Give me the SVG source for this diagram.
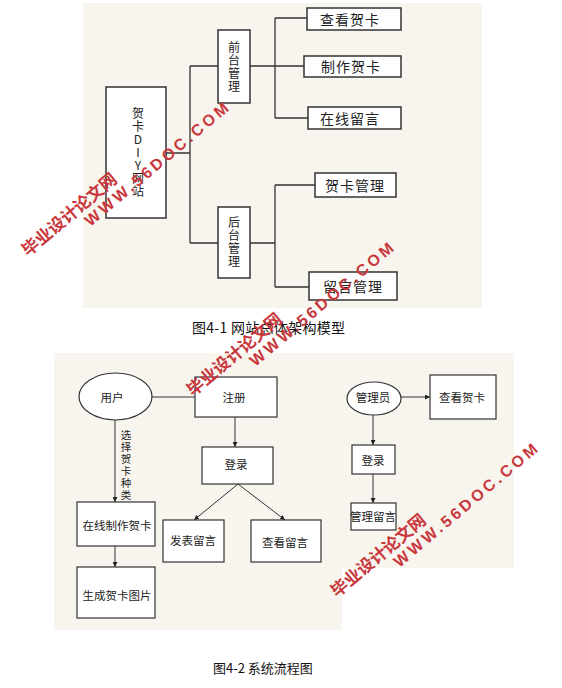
<svg xmlns="http://www.w3.org/2000/svg" width="562" height="688" viewBox="0 0 562 688">
<style>
.bg{fill:#f8f5ef;stroke:none}
.box{fill:#ffffff;stroke:#333333;stroke-width:1.5}
.box2{fill:#ffffff;stroke:#333333;stroke-width:1.2}
.ln{fill:none;stroke:#333333;stroke-width:1.3}
.ln2{fill:none;stroke:#333333;stroke-width:1}
.t{font-family:"Noto Sans CJK SC","Noto Sans",sans-serif;font-size:14px;fill:#222222;text-anchor:middle;dominant-baseline:central}
.tv{font-family:"Noto Sans CJK SC","Noto Sans",sans-serif;font-size:12px;letter-spacing:1px;fill:#222222;text-anchor:middle;dominant-baseline:central;writing-mode:vertical-rl;text-orientation:upright}
.t2{font-family:"Noto Sans CJK SC","Noto Sans",sans-serif;font-size:11.5px;fill:#222222;text-anchor:middle;dominant-baseline:central}
.tv2{font-family:"Noto Sans CJK SC","Noto Sans",sans-serif;font-size:10.5px;letter-spacing:1.5px;fill:#222222;text-anchor:middle;dominant-baseline:central;writing-mode:vertical-rl;text-orientation:upright}
.cap{font-family:"Noto Sans CJK SC","Noto Sans",sans-serif;fill:#111111}
.wm1{font-family:"Noto Sans CJK SC",sans-serif;font-size:17px;font-weight:bold;fill:#c9383c}
.wm2{font-family:"Liberation Sans",Arial,sans-serif;font-size:16px;font-weight:bold;fill:#c9383c}
</style>
<defs>
<marker id="ah" viewBox="0 0 10 10" refX="10" refY="5" markerWidth="5" markerHeight="5" orient="auto" markerUnits="userSpaceOnUse">
<path d="M0,0 L10,5 L0,10 z" fill="#222222"/>
</marker>
</defs>
<rect width="562" height="688" fill="#ffffff"/>
<rect class="bg" x="83" y="3" width="399" height="305"/>
<path class="bg" d="M54,353 H514 V568 H342 V630 H54 Z"/>

<g id="connectors">
<path class="ln" d="M166,153 H190 M190,66 V243 M190,66 H218 M190,243 H218"/>
<path class="ln" d="M250,66 H275 M275,18 V118 M275,18 H307 M275,66 H304 M275,118 H308"/>
<path class="ln" d="M250,243 H275 M275,185 V287 M275,185 H315 M275,287 H309"/>
<path class="ln2" d="M152,397 H195"/>
<path class="ln2" d="M235,417 V447" marker-end="url(#ah)"/>
<path class="ln2" d="M238,484 L194,520" marker-end="url(#ah)"/>
<path class="ln2" d="M238,484 L285,520" marker-end="url(#ah)"/>
<path class="ln2" d="M115,420 V502" marker-end="url(#ah)"/>
<path class="ln2" d="M115,546 V567" marker-end="url(#ah)"/>
<path class="ln2" d="M401,397 H430" marker-end="url(#ah)"/>
<path class="ln2" d="M373,415 V445" marker-end="url(#ah)"/>
<path class="ln2" d="M373,474 V503" marker-end="url(#ah)"/>
</g>

<g id="n-site">
<rect class="box" x="106" y="87" width="60" height="131"/>
<text class="tv" x="138" y="153">贺卡DIY网站</text>
</g>
<g id="n-front">
<rect class="box" x="218" y="30" width="32" height="73"/>
<text class="tv" x="234" y="67">前台管理</text>
</g>
<g id="n-back">
<rect class="box" x="218" y="207" width="32" height="71"/>
<text class="tv" x="234" y="242">后台管理</text>
</g>
<g id="n-view">
<rect class="box" x="307" y="8" width="94" height="22"/>
<text class="t" x="350" y="19" letter-spacing="1">查看贺卡</text>
</g>
<g id="n-make">
<rect class="box" x="304" y="56" width="97" height="21"/>
<text class="t" x="351" y="66" letter-spacing="1">制作贺卡</text>
</g>
<g id="n-msg">
<rect class="box" x="308" y="107" width="93" height="22"/>
<text class="t" x="350" y="118" letter-spacing="1">在线留言</text>
</g>
<g id="n-cardmgr">
<rect class="box" x="315" y="173" width="81" height="24"/>
<text class="t" x="355" y="185" letter-spacing="1">贺卡管理</text>
</g>
<g id="n-msgmgr">
<rect class="box" x="309" y="272" width="88" height="28"/>
<text class="t" x="353" y="286" letter-spacing="1">留言管理</text>
</g>
<text class="cap" x="192" y="333" font-size="14" textLength="153" lengthAdjust="spacing">图4-1 网站总体架构模型</text>

<g id="n-user">
<ellipse class="box2" cx="115.5" cy="396.5" rx="36.5" ry="23.5"/>
<text class="t2" x="112" y="397">用户</text>
</g>
<g id="n-register">
<rect class="box2" x="195" y="377" width="82" height="40"/>
<text class="t2" x="234" y="397">注册</text>
</g>
<g id="n-login">
<rect class="box2" x="202" y="447" width="71" height="37"/>
<text class="t2" x="236" y="464">登录</text>
</g>
<g id="n-post">
<rect class="box2" x="163" y="520" width="61" height="42"/>
<text class="t2" x="193" y="540">发表留言</text>
</g>
<g id="n-viewmsg">
<rect class="box2" x="251" y="520" width="70" height="42"/>
<text class="t2" x="285" y="542">查看留言</text>
</g>
<g id="l-choose">
<text class="tv2" x="126" y="466">选择贺卡种类</text>
</g>
<g id="n-online">
<rect class="box2" x="77" y="502" width="78" height="44"/>
<text class="t2" x="117" y="525">在线制作贺卡</text>
</g>
<g id="n-gen">
<rect class="box2" x="77" y="567" width="78" height="51"/>
<text class="t2" x="117" y="595">生成贺卡图片</text>
</g>
<g id="n-admin">
<ellipse class="box2" cx="374" cy="398.5" rx="27" ry="16.5"/>
<text class="t2" x="373" y="397">管理员</text>
</g>
<g id="n-aview">
<rect class="box2" x="430" y="375" width="66" height="44"/>
<text class="t2" x="462" y="397">查看贺卡</text>
</g>
<g id="n-alogin">
<rect class="box2" x="352" y="445" width="43" height="29"/>
<text class="t2" x="373" y="460">登录</text>
</g>
<g id="n-amsg">
<rect class="box2" x="351" y="503" width="45" height="27"/>
<text class="t2" x="373" y="516" font-size="10.5">管理留言</text>
</g>
<text class="cap" x="213" y="673" font-size="13">图4-2 系统流程图</text>

<g id="watermarks">
<g transform="translate(28,257) rotate(-40)">
<text class="wm1" x="0" y="0" textLength="118" lengthAdjust="spacing">毕业设计论文网</text>
<text class="wm2" x="67" y="17" textLength="182" lengthAdjust="spacing">WWW.56DOC.COM</text>
</g>
<g transform="translate(193,397) rotate(-40)">
<text class="wm1" x="0" y="0" textLength="118" lengthAdjust="spacing">毕业设计论文网</text>
<text class="wm2" x="67" y="17" textLength="182" lengthAdjust="spacing">WWW.56DOC.COM</text>
</g>
<g transform="translate(337,598) rotate(-40)">
<text class="wm1" x="0" y="0" textLength="118" lengthAdjust="spacing">毕业设计论文网</text>
<text class="wm2" x="67" y="17" textLength="182" lengthAdjust="spacing">WWW.56DOC.COM</text>
</g>
</g>
</svg>
